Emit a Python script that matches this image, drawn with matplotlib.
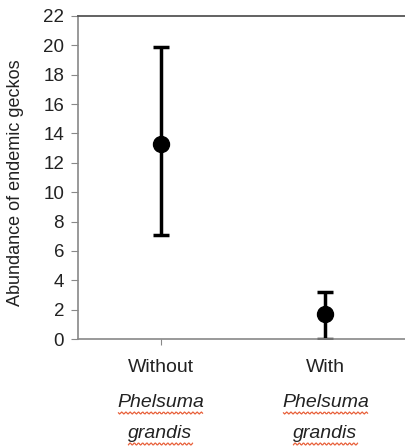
import numpy as np
import matplotlib
matplotlib.use("Agg")
import matplotlib.pyplot as plt

# values
groups = ["Without", "With"]
means = [13.3, 1.7]
upper = [19.9, 3.2]
lower = [7.05, 0.0]
yticks = list(range(0, 23, 2))

plt.rcParams["font.family"] = ["Liberation Sans", "DejaVu Sans"]

fig = plt.figure(figsize=(4.05, 4.48), dpi=100)
ax = fig.add_axes([78 / 405, 1 - 339 / 448, 330 / 405, 323 / 448])

x = np.array([0.5, 1.5])
m = np.array(means)
yerr = [m - np.array(lower), np.array(upper) - m]
ax.errorbar(x, m, yerr=yerr, fmt="o", color="black", ms=11.5, elinewidth=2.5,
            capsize=6, capthick=2.5)

ax.set_xlim(0, 2)
ax.set_ylim(0, 22)
ax.set_yticks(yticks)
ax.set_xticks([0.5])
ax.set_xticklabels([""])
ax.tick_params(axis="y", direction="out", length=5, color="#888888",
               labelsize=13.5, labelcolor="#222222", pad=5)
ax.tick_params(axis="x", direction="out", length=4, color="#888888")
for s in ["left", "bottom"]:
    ax.spines[s].set_color("#888888")
    ax.spines[s].set_linewidth(1.2)
ax.spines["top"].set_color("#555555")
ax.spines["top"].set_linewidth(1.3)
ax.spines["right"].set_visible(False)

ax.set_ylabel("Abundance of endemic geckos", fontsize=13, color="#222222")
ax.yaxis.set_label_coords(-54 / 330, 0.485)

# category labels, three lines each
for xi, g in zip(x, groups):
    xf = ax.transData.transform((xi, 0))[0]
    xf = fig.transFigure.inverted().transform((xf, 0))[0]
    fig.text(xf, 1 - 367 / 448, g, ha="center", va="center", fontsize=14,
             color="#222222")
    fig.text(xf, 1 - 402 / 448, "Phelsuma", ha="center", va="center",
             fontsize=14, style="italic", color="#222222")
    fig.text(xf, 1 - 433 / 448, "grandis", ha="center", va="center",
             fontsize=14, style="italic", color="#222222")
    # spell-check squiggles under the species name
    for yy, half in [(413, 42), (444, 32)]:
        px = np.linspace(-half, half, 80)
        py = yy + 1.0 * np.sin(px * 1.5)
        xc = xf * 405
        fig.add_artist(plt.Line2D((xc + px) / 405, 1 - py / 448,
                                  color="#e8603a", lw=0.9,
                                  transform=fig.transFigure))

fig.savefig("out.png", dpi=100, facecolor="white")
